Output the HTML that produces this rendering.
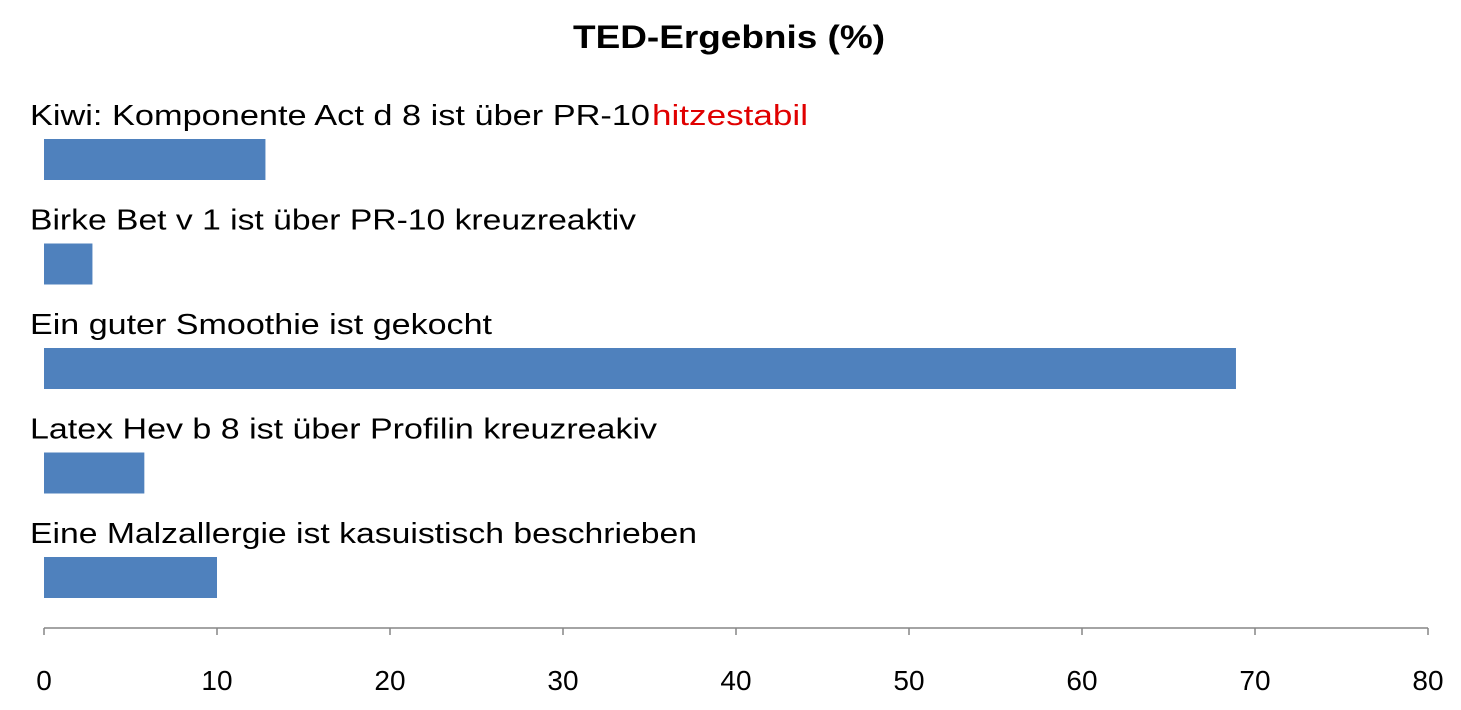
<!DOCTYPE html>
<html><head><meta charset="utf-8"><style>
html,body{margin:0;padding:0;background:#fff;}
svg{display:block;font-family:"Liberation Sans",sans-serif;}
</style></head><body>
<svg id="chart" width="1461" height="710">
<text x="729" y="48" text-anchor="middle" font-size="32" font-weight="bold" textLength="312" lengthAdjust="spacingAndGlyphs">TED-Ergebnis (%)</text>
<g id="bars"></g>
<g id="axis"></g>
</svg>
<script>
const categories = ["Kiwi: Komponente Act d 8 ist über PR-10 ", "Birke Bet v 1 ist über PR-10 kreuzreaktiv", "Ein guter Smoothie ist gekocht", "Latex Hev b 8 ist über Profilin kreuzreakiv", "Eine Malzallergie ist kasuistisch beschrieben"];
const values = [12.8, 2.8, 68.9, 5.8, 10.0];
const tickLabels = [0, 10, 20, 30, 40, 50, 60, 70, 80];
const labelWidths = [620, 606, 462, 627, 667];
const NS = "http://www.w3.org/2000/svg";
const x0 = 44, x1 = 1428, xMax = 80;
const xs = v => x0 + (x1 - x0) * v / xMax;
const rowY = i => 139 + i * 104.5;
const bars = document.getElementById("bars");
categories.forEach((c, i) => {
  const y = rowY(i);
  const t = document.createElementNS(NS, "text");
  
  
  t.setAttribute("x", 30); t.setAttribute("y", y - 14);
  t.setAttribute("font-size", "29");
  t.setAttribute("textLength", labelWidths[i]);
  t.setAttribute("lengthAdjust", "spacingAndGlyphs");
  t.textContent = c;
  bars.appendChild(t);
  if (i === 0) {
    const r = document.createElementNS(NS, "text");
    
    
    r.setAttribute("x", 652); r.setAttribute("y", y - 14);
    r.setAttribute("font-size", "29"); r.setAttribute("fill", "#e00000");
    r.setAttribute("textLength", 156);
    r.setAttribute("lengthAdjust", "spacingAndGlyphs");
    r.textContent = "hitzestabil";
    bars.appendChild(r);
  }
  const b = document.createElementNS(NS, "rect");
  
  
  b.setAttribute("x", xs(0)); b.setAttribute("y", y);
  b.setAttribute("width", xs(values[i]) - xs(0)); b.setAttribute("height", 41);
  b.setAttribute("fill", "#4f81bd");
  bars.appendChild(b);
});
const axis = document.getElementById("axis");
const line = document.createElementNS(NS, "line");


line.setAttribute("x1", x0); line.setAttribute("x2", x1);
line.setAttribute("y1", 628); line.setAttribute("y2", 628);
line.setAttribute("stroke", "#868686"); line.setAttribute("stroke-width", "1.5");
axis.appendChild(line);
tickLabels.forEach(v => {
  const tk = document.createElementNS(NS, "line");
  
  
  tk.setAttribute("x1", xs(v)); tk.setAttribute("x2", xs(v));
  tk.setAttribute("y1", 628); tk.setAttribute("y2", 635);
  tk.setAttribute("stroke", "#868686"); tk.setAttribute("stroke-width", "1.5");
  axis.appendChild(tk);
  const tl = document.createElementNS(NS, "text");
  
  
  tl.setAttribute("x", xs(v)); tl.setAttribute("y", 690);
  tl.setAttribute("text-anchor", "middle"); tl.setAttribute("font-size", "28");
  tl.textContent = v;
  axis.appendChild(tl);
});
</script>
</body></html>
